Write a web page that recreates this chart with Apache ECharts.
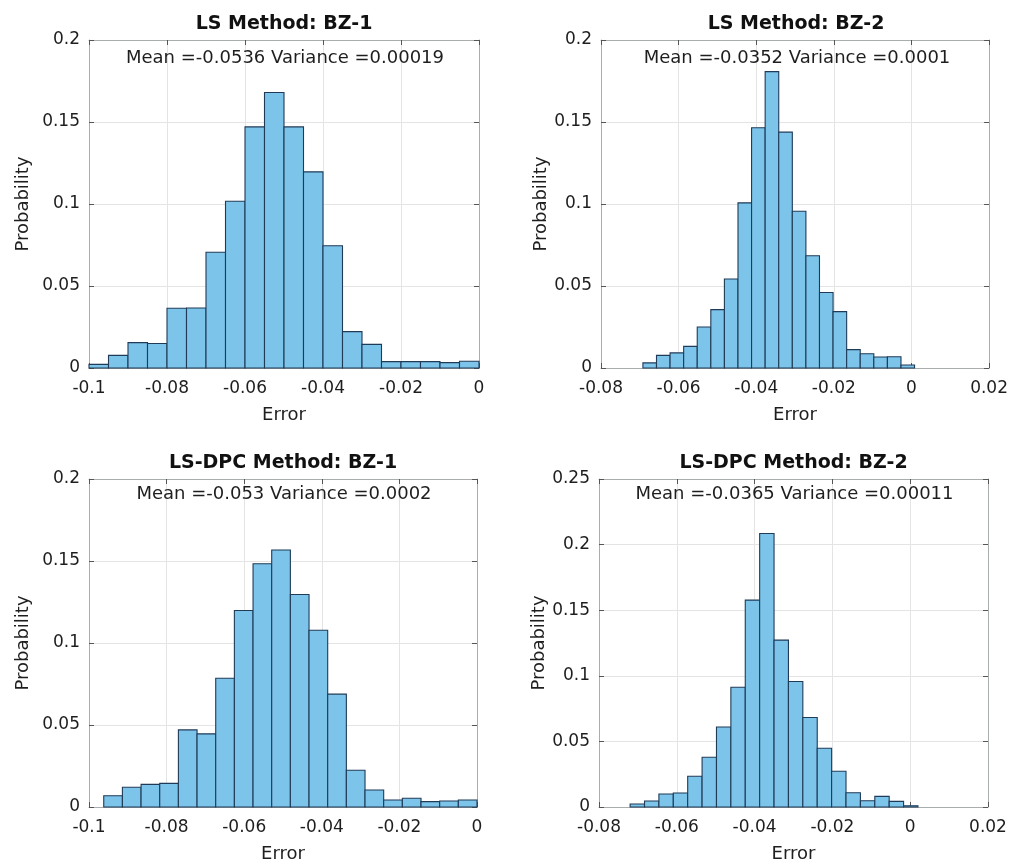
<!DOCTYPE html>
<html>
<head>
<meta charset="utf-8">
<script src="https://cdn.jsdelivr.net/npm/echarts@6/dist/echarts.min.js"></script>
<style>html,body{margin:0;padding:0;background:#fff;}#c{width:1011px;height:865px;}</style>
</head>
<body>
<div id="c"></div>
<script>
// ---- Data ----
var titles = ['LS Method: BZ-1', 'LS Method: BZ-2', 'LS-DPC Method: BZ-1', 'LS-DPC Method: BZ-2'];
var stats = ['Mean =-0.0536 Variance =0.00019', 'Mean =-0.0352 Variance =0.0001',
             'Mean =-0.053 Variance =0.0002', 'Mean =-0.0365 Variance =0.00011'];

// histogram bin starts / widths
var binStart = [-0.1, -0.0692, -0.0962, -0.0720];
var binWidth = [0.005, 0.0035, 0.00481, 0.0037];

var valsLS1 = [0.0022, 0.0077, 0.0155, 0.0149, 0.0364, 0.0366, 0.0706, 0.1017, 0.147, 0.168,
               0.147, 0.1196, 0.0745, 0.0222, 0.0144, 0.0039, 0.0039, 0.0039, 0.0033, 0.0041];
var valsLS2 = [0.0031, 0.0077, 0.0092, 0.0132, 0.025, 0.0356, 0.0543, 0.1007, 0.1465, 0.1807,
               0.1438, 0.0956, 0.0684, 0.046, 0.0344, 0.0112, 0.0087, 0.0067, 0.0069, 0.0018];
var valsDPC1 = [0.0069, 0.012, 0.0138, 0.0144, 0.047, 0.0446, 0.0785, 0.1198, 0.1483, 0.1567,
                0.1296, 0.1078, 0.0688, 0.0224, 0.0104, 0.0043, 0.0053, 0.0033, 0.0037, 0.0043];
var valsDPC2 = [0.0023, 0.0046, 0.0099, 0.0107, 0.0234, 0.0379, 0.061, 0.0913, 0.1577, 0.2085,
                0.1272, 0.0956, 0.0682, 0.0448, 0.0272, 0.0109, 0.0048, 0.0081, 0.0043, 0.001];
var allVals = [valsLS1, valsLS2, valsDPC1, valsDPC2];

// axis ticks
var xMin = [-0.1, -0.08, -0.1, -0.08];
var xMax = [0, 0.02, 0, 0.02];
var xStep = [0.02, 0.02, 0.02, 0.02];
var yMax = [0.2, 0.2, 0.2, 0.25];
var yStep = [0.05, 0.05, 0.05, 0.05];

// ---- Layout ----
var grids = [
  {left: 89, top: 40, width: 390, height: 328},
  {left: 601, top: 40, width: 390, height: 328},
  {left: 89, top: 479, width: 388, height: 328},
  {left: 599, top: 479, width: 389, height: 328}
];
var yNameGap = [57, 50, 57, 49];

var FONT = 'DejaVu Sans';
var frameColor = '#a9adad';
var gridColor = '#e4e4e4';
var textColor = '#1e1e1e';

var option = {
  backgroundColor: '#fff',
  animation: false,
  title: [],
  grid: [],
  xAxis: [],
  yAxis: [],
  series: []
};

for (var i = 0; i < 4; i++) {
  var g = grids[i];
  option.grid.push({left: g.left, top: g.top, width: g.width, height: g.height, containLabel: false});
  var cx = g.left + g.width / 2;
  var topT = g.top - 25;
  option.title.push({
    text: titles[i], left: cx, top: topT, textAlign: 'center', padding: 0,
    textStyle: {fontFamily: FONT, fontSize: 19, fontWeight: 'bold', color: '#111'}
  });
  option.title.push({
    text: stats[i], left: cx + 1, top: g.top + (i < 2 ? 9 : 6), textAlign: 'center', padding: 0,
    textStyle: {fontFamily: FONT, fontSize: 18, fontWeight: 'normal', color: textColor}
  });

  var xBase = {
    type: 'value', gridIndex: i, min: xMin[i], max: xMax[i], interval: xStep[i],
    axisLine: {show: true, onZero: false, lineStyle: {color: frameColor, width: 1}},
    axisTick: {show: true, inside: true, length: 5, lineStyle: {color: '#555'}}
  };
  option.xAxis.push(Object.assign({}, xBase, {
    position: 'bottom',
    name: 'Error', nameLocation: 'middle', nameGap: 38,
    nameTextStyle: {fontFamily: FONT, fontSize: 18, color: textColor},
    axisLabel: {fontFamily: FONT, fontSize: 17, color: textColor, margin: 12},
    splitLine: {show: true, lineStyle: {color: gridColor, width: 1}}
  }));
  option.xAxis.push(Object.assign({}, xBase, {
    position: 'top', axisLabel: {show: false}, splitLine: {show: false}
  }));

  var yBase = {
    type: 'value', gridIndex: i, min: 0, max: yMax[i], interval: yStep[i],
    axisLine: {show: true, onZero: false, lineStyle: {color: frameColor, width: 1}},
    axisTick: {show: true, inside: true, length: 5, lineStyle: {color: '#555'}}
  };
  option.yAxis.push(Object.assign({}, yBase, {
    position: 'left',
    name: 'Probability', nameLocation: 'middle', nameGap: yNameGap[i], nameRotate: 90,
    nameTextStyle: {fontFamily: FONT, fontSize: 18, color: textColor},
    axisLabel: {fontFamily: FONT, fontSize: 17, color: textColor, margin: 9},
    splitLine: {show: true, lineStyle: {color: gridColor, width: 1}}
  }));
  option.yAxis.push(Object.assign({}, yBase, {
    position: 'right', axisLabel: {show: false}, splitLine: {show: false}
  }));

  var data = allVals[i].map(function (v, k) {
    var s = binStart[i] + k * binWidth[i];
    return [s, s + binWidth[i], v];
  });
  option.series.push({
    type: 'custom',
    xAxisIndex: i * 2,
    yAxisIndex: i * 2,
    data: data,
    encode: {x: [0, 1], y: 2},
    clip: false,
    renderItem: function (params, api) {
      var p0 = api.coord([api.value(0), api.value(2)]);
      var p1 = api.coord([api.value(1), 0]);
      return {
        type: 'rect',
        shape: {x: p0[0], y: p0[1], width: p1[0] - p0[0], height: p1[1] - p0[1]},
        style: {fill: '#7cc4ea', stroke: '#1f3b57', lineWidth: 1.1}
      };
    }
  });
}

var chart = echarts.init(document.getElementById('c'), null, {renderer: 'canvas'});
chart.setOption(option);
</script>
</body>
</html>
